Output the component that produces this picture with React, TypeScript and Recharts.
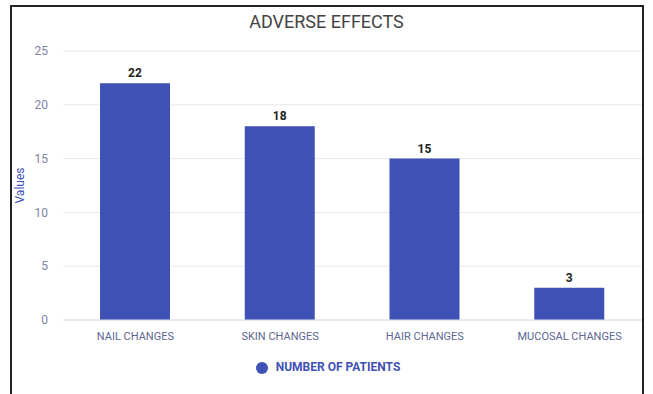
import { Bar, BarChart, CartesianGrid, LabelList, Legend, XAxis, YAxis } from "recharts";

const categories = ["NAIL CHANGES", "SKIN CHANGES", "HAIR CHANGES", "MUCOSAL CHANGES"];
const patients = [22, 18, 15, 3];
const yTicks = [0, 5, 10, 15, 20, 25];
const seriesName = "NUMBER OF PATIENTS";

const INDIGO = "#3f51b5";
const FONT = "Roboto, 'Noto Sans', sans-serif";

const data = categories.map((name, i) => ({ name, value: patients[i] }));

function AxisTitle({ viewBox }: { viewBox?: { x: number; y: number; width: number; height: number } }) {
  if (!viewBox) return null;
  const cx = viewBox.x + 20;
  const cy = viewBox.y + viewBox.height / 2;
  return (
    <text x={cx} y={cy} transform={`rotate(-90 ${cx} ${cy})`} textAnchor="middle" dominantBaseline="central" fill={INDIGO} fontSize={12} fontFamily={FONT}>
      Values
    </text>
  );
}

export default function App() {
  return (
    <div style={{ position: "absolute", left: 0, top: 0, width: 653, height: 394, background: "#fff", overflow: "hidden", fontFamily: FONT }}>
      <div style={{ position: "absolute", left: 10, top: 5, width: 634, height: 400, border: "2px solid #222", boxSizing: "border-box" }} />
      <div style={{ position: "absolute", left: 0, top: 11, width: 653, textAlign: "center", fontSize: 18, color: "#444" }}>ADVERSE EFFECTS</div>
      <BarChart width={653} height={394} data={data} margin={{ top: 51, right: 11, left: 0, bottom: 10 }} style={{ position: "absolute", left: 0, top: 0 }}>
        <CartesianGrid vertical={false} stroke="#e8e8ec" />
        <XAxis
          dataKey="name"
          tickLine={false}
          tickMargin={6}
          axisLine={{ stroke: "#e2e2e8" }}
          tick={{ fill: "#5c6692", fontSize: 11, fontFamily: FONT }}
          interval={0}
        />
        <YAxis
          domain={[0, 25]}
          ticks={yTicks}
          width={63}
          tickLine={false}
          axisLine={false}
          tickMargin={9}
          tick={{ fill: "#7d83a0", fontSize: 12, fontFamily: FONT }}
          label={<AxisTitle />}
        />
        <Legend
          verticalAlign="bottom"
          iconType="circle"
          iconSize={12}
          wrapperStyle={{ fontFamily: FONT, fontSize: 12, fontWeight: 700, lineHeight: "34px", paddingLeft: 12 }}
          formatter={(value) => <span style={{ color: INDIGO, fontWeight: 700, marginLeft: 4 }}>{value}</span>}
        />
        <Bar dataKey="value" name={seriesName} fill={INDIGO} barSize={70} isAnimationActive={false}>
          <LabelList dataKey="value" position="top" offset={6} fill="#222" fontSize={12} fontWeight={700} fontFamily={FONT} />
        </Bar>
      </BarChart>
    </div>
  );
}
